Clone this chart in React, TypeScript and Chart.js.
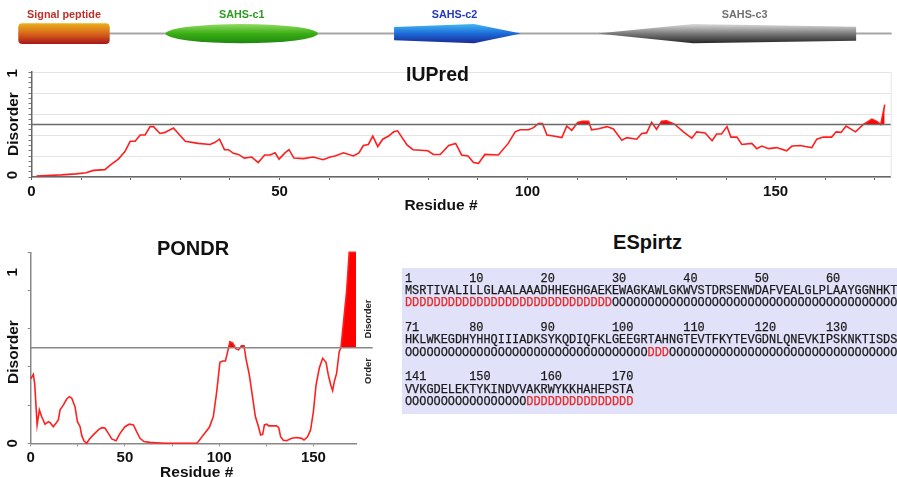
import React, { useEffect, useRef } from "react";
import { Chart, registerables } from "chart.js";

Chart.register(...registerables);

// ---------------- data ----------------
const SEQ_LENGTH = 172;

const domainNames = ["Signal peptide", "SAHS-c1", "SAHS-c2", "SAHS-c3"];
const domainStarts = [1, 30, 75, 115];
const domainEnds = [18, 59, 99, 165];

const disorderThreshold = 0.5;
const xTickLabels = [0, 50, 100, 150];
const yTickLabels = [0, 1];

const iupredResidues = [
  1, 3, 6, 9, 11, 12.5, 14.8, 15.8, 17.5, 18.8, 19.9, 20.9, 21.9, 22.9, 23.9, 24.6, 25.9, 26.9, 28.6, 31,
  33.6, 36, 37, 37.9, 38.9, 39.7, 40.7, 41.7, 42.9, 44.4, 45.7, 47, 48.1, 49.1, 49.9, 51.1, 51.9, 52.9, 54.8, 56.8,
  58.8, 60.2, 61.2, 62.9, 64.9, 66, 66.9, 67.9, 68.8, 69.8, 70.8, 72, 73, 73.8, 75.7, 76.9, 79.9, 81, 82.4, 84.1,
  85.5, 86.7, 88, 89.1, 90.1, 91.4, 94.1, 96.1, 97.5, 98.5, 100.2, 101.2, 102.2, 103, 103.9, 105.2, 106.9, 107.9, 108.9, 110.1,
  111.1, 112.3, 112.9, 114.3, 116, 117.3, 119, 120, 122, 123, 124, 125, 126, 127, 128, 129.7, 131.4, 133.1, 134.1, 135.8,
  137.2, 138.1, 139.1, 140.2, 141, 142.2, 143.2, 145.2, 146.2, 147.2, 148.6, 150.2, 152.2, 153.3, 155, 156, 157.3, 158.3, 159.6, 161.3,
  162.2, 163.2, 164.2, 166.1, 167.7, 168.7, 169.4, 170.4, 171.2, 172,
];
const iupredScores = [
  0.01, 0.015, 0.02, 0.03, 0.04, 0.063, 0.07, 0.11, 0.17, 0.24, 0.34, 0.34, 0.4, 0.4, 0.48, 0.48, 0.415, 0.425, 0.467, 0.34,
  0.32, 0.31, 0.33, 0.36, 0.26, 0.26, 0.225, 0.215, 0.18, 0.19, 0.137, 0.21, 0.21, 0.23, 0.17, 0.23, 0.26, 0.18, 0.175, 0.19,
  0.165, 0.19, 0.2, 0.23, 0.2, 0.23, 0.3, 0.31, 0.39, 0.29, 0.36, 0.39, 0.43, 0.44, 0.305, 0.26, 0.25, 0.215, 0.215, 0.3,
  0.32, 0.21, 0.2, 0.137, 0.13, 0.215, 0.21, 0.32, 0.43, 0.45, 0.45, 0.47, 0.51, 0.51, 0.4, 0.39, 0.375, 0.485, 0.445, 0.52,
  0.53, 0.53, 0.45, 0.46, 0.48, 0.457, 0.35, 0.375, 0.36, 0.415, 0.42, 0.52, 0.455, 0.53, 0.535, 0.5, 0.43, 0.37, 0.43, 0.42,
  0.346, 0.41, 0.41, 0.48, 0.38, 0.38, 0.31, 0.32, 0.27, 0.295, 0.27, 0.28, 0.25, 0.295, 0.3, 0.29, 0.28, 0.36, 0.38, 0.38,
  0.43, 0.425, 0.485, 0.43, 0.5, 0.53, 0.55, 0.53, 0.5, 0.69,
];

const pondrResidues = [
  0, 1.4, 2.1, 2.8, 3.4, 4.6, 5.8, 7.6, 9.4, 10.3, 12, 13.8, 14.7, 15.6, 17.3, 19.1, 20.5, 21.8, 23.5, 24.8,
  26.2, 27.1, 28.3, 29.7, 31.1, 33.2, 35.9, 37.7, 39.4, 41.2, 43, 45.3, 47.4, 50, 52.3, 54.5, 56.2, 58, 60.1, 63.3,
  66.8, 72, 80, 88, 89, 91.6, 94.8, 96.9, 98.7, 100.4, 101.9, 103.3, 104.3, 105.7, 107.2, 108.9, 110.3, 111.8, 113.2, 114.2,
  116, 117.8, 119.2, 120.6, 122, 123.1, 124, 125.2, 126.3, 130.5, 131.6, 132.6, 134, 135.8, 138.5, 141.1, 143.8, 145, 146.8, 148.5,
  150, 151.4, 153.1, 154.9, 156.7, 157.9, 159.2, 160.2, 161.1, 162.3, 163.7, 164.6, 167.6, 169, 172.6,
];
const pondrScores = [
  0.337, 0.361, 0.314, 0.2, 0.096, 0.175, 0.14, 0.1, 0.113, 0.108, 0.087, 0.11, 0.124, 0.175, 0.2, 0.232, 0.244, 0.236, 0.192, 0.113,
  0.087, 0.04, 0.012, 0.0, 0.021, 0.044, 0.07, 0.082, 0.08, 0.052, 0.023, 0.014, 0.052, 0.087, 0.1, 0.096, 0.061, 0.026, 0.009, 0.005,
  0.003, 0.0, 0.0, 0.0, 0.009, 0.044, 0.084, 0.14, 0.27, 0.424, 0.431, 0.431, 0.471, 0.532, 0.524, 0.494, 0.489, 0.511, 0.511, 0.445,
  0.358, 0.236, 0.14, 0.096, 0.044, 0.047, 0.096, 0.1, 0.091, 0.091, 0.082, 0.035, 0.016, 0.014, 0.026, 0.03, 0.026, 0.017, 0.033, 0.07,
  0.166, 0.305, 0.393, 0.445, 0.424, 0.358, 0.305, 0.276, 0.323, 0.366, 0.48, 0.5, 0.794, 1.0, 1.0,
];

const espritzRowStarts = [1, 71, 141];
const espritzSequenceRows = [
  "MSRTIVALILLGLAALAAADHHEGHGAEKEWAGKAWLGKWVSTDRSENWDAFVEALGLPLAAYGGNHKT",
  "HKLWKEGDHYHHQIIIADKSYKQDIQFKLGEEGRTAHNGTEVTFKYTEVGDNLQNEVKIPSKNKTISDS",
  "VVKGDELEKTYKINDVVAKRWYKKHAHEPSTA",
];
const espritzDisorderStarts = [1, 105, 158];
const espritzDisorderEnds = [29, 107, 172];

// ---------------- styles ----------------
const SANS = '"Liberation Sans", Arial, Helvetica, sans-serif';

const domainStyles = [
  { shape: "roundrect", stops: ["#eab21c", "#d8661a", "#a8141a"], text: "#c0302a", labelShift: 0 },
  { shape: "ellipse", stops: ["#9be06a", "#3aae14", "#1c8410"], text: "#2f9a22", labelShift: 0 },
  { shape: "arrow", stops: ["#46c0f4", "#1c6ad8", "#1a2590"], text: "#2038c0", labelShift: -3 },
  { shape: "wedge", stops: ["#e4e4e4", "#7a7a7a", "#202020"], text: "#707070", labelShift: 18 },
];

const domainPlugin = {
  id: "domains",
  afterDraw(chart: any) {
    const { ctx } = chart;
    const x = chart.scales.x;
    const yc = 33.6;
    ctx.save();
    ctx.strokeStyle = "#a6a6a6";
    ctx.lineWidth = 2;
    ctx.beginPath();
    ctx.moveTo(x.getPixelForValue(0), yc);
    ctx.lineTo(x.getPixelForValue(SEQ_LENGTH), yc);
    ctx.stroke();

    domainNames.forEach((name, i) => {
      const x0 = x.getPixelForValue(domainStarts[i] - 1);
      const x1 = x.getPixelForValue(domainEnds[i]);
      const w = x1 - x0;
      const st = domainStyles[i];
      const g = ctx.createLinearGradient(0, yc - 10.5, 0, yc + 10.5);
      g.addColorStop(0, st.stops[0]);
      g.addColorStop(0.5, st.stops[1]);
      g.addColorStop(1, st.stops[2]);
      ctx.fillStyle = g;
      ctx.beginPath();
      if (st.shape === "roundrect") {
        const t = yc - 10.3, b = yc + 10.4, r = 4;
        ctx.moveTo(x0 + r, t);
        ctx.lineTo(x1 - r, t);
        ctx.quadraticCurveTo(x1, t, x1, t + r);
        ctx.lineTo(x1, b - r);
        ctx.quadraticCurveTo(x1, b, x1 - r, b);
        ctx.lineTo(x0 + r, b);
        ctx.quadraticCurveTo(x0, b, x0, b - r);
        ctx.lineTo(x0, t + r);
        ctx.quadraticCurveTo(x0, t, x0 + r, t);
      } else if (st.shape === "ellipse") {
        ctx.ellipse((x0 + x1) / 2, yc, w / 2, 9.6, 0, 0, Math.PI * 2);
      } else if (st.shape === "arrow") {
        const xp = x0 + 0.63 * w;
        ctx.moveTo(x0, yc - 6.6);
        ctx.lineTo(xp, yc - 9.6);
        ctx.lineTo(x1, yc);
        ctx.lineTo(xp, yc + 9.6);
        ctx.lineTo(x0, yc + 6.6);
      } else {
        const xp = x0 + 0.37 * w;
        ctx.moveTo(x0, yc);
        ctx.lineTo(xp, yc - 9.6);
        ctx.lineTo(x1, yc - 6.8);
        ctx.lineTo(x1, yc + 7.2);
        ctx.lineTo(xp, yc + 9.6);
      }
      ctx.closePath();
      ctx.fill();

      ctx.fillStyle = st.text;
      ctx.font = `bold 10.8px ${SANS}`;
      ctx.textAlign = "center";
      ctx.textBaseline = "middle";
      ctx.fillText(name, (x0 + x1) / 2 + st.labelShift, 15);
    });
    ctx.restore();
  },
};

function thresholdPlugin(extendRight: number, color: string, width: number) {
  return {
    id: "threshold",
    afterDatasetsDraw(chart: any) {
      const { ctx, chartArea } = chart;
      const py = chart.scales.y.getPixelForValue(disorderThreshold);
      ctx.save();
      ctx.strokeStyle = color;
      ctx.lineWidth = width;
      ctx.beginPath();
      ctx.moveTo(chartArea.left, py);
      ctx.lineTo(chartArea.right + extendRight, py);
      ctx.stroke();
      ctx.restore();
    },
  };
}

function frameRightPlugin(color: string) {
  return {
    id: "frameRight",
    beforeDatasetsDraw(chart: any) {
      const { ctx, chartArea } = chart;
      ctx.save();
      ctx.strokeStyle = color;
      ctx.lineWidth = 1;
      ctx.beginPath();
      ctx.moveTo(chartArea.right + 0.5, chartArea.top);
      ctx.lineTo(chartArea.right + 0.5, chartArea.bottom);
      ctx.stroke();
      ctx.restore();
    },
  };
}

// nudges follow the order of yTickLabels: [value 0, value 1]
function yLabelPlugin(xPos: number, nudges: number[]) {
  return {
    id: "yRotLabels",
    afterDraw(chart: any) {
      const { ctx } = chart;
      const y = chart.scales.y;
      yTickLabels.forEach((v, i) => {
        ctx.save();
        ctx.translate(xPos, y.getPixelForValue(v) + nudges[i]);
        ctx.rotate(-Math.PI / 2);
        ctx.font = `bold 15px ${SANS}`;
        ctx.fillStyle = "#111";
        ctx.textAlign = "center";
        ctx.textBaseline = "middle";
        ctx.fillText(String(v), 0, 0);
        ctx.restore();
      });
    },
  };
}

function lineDataset(xs: number[], ys: number[], color: string) {
  return {
    data: xs.map((r, i) => ({ x: r, y: ys[i] })),
    borderColor: color,
    borderWidth: 1.6,
    pointRadius: 0,
    tension: 0,
    clip: 4,
    fill: { target: { value: disorderThreshold }, above: "#ff0000", below: "rgba(0,0,0,0)" },
  };
}

function xTickCallback(v: any) {
  return xTickLabels.includes(Number(v)) ? String(v) : "";
}

function domainConfig(): any {
  return {
    type: "scatter",
    data: { datasets: [] },
    options: {
      animation: false,
      responsive: false,
      layout: { padding: { left: 18.3, right: 5.3, top: 0, bottom: 0 } },
      plugins: { legend: { display: false }, tooltip: { enabled: false } },
      scales: {
        x: { type: "linear", min: 0, max: SEQ_LENGTH, display: false },
        y: { type: "linear", min: 0, max: 1, display: false },
      },
    },
    plugins: [domainPlugin],
  };
}

function iupredConfig(): any {
  return {
    type: "line",
    data: { datasets: [lineDataset(iupredResidues, iupredScores, "#ff1e1e")] },
    options: {
      animation: false,
      responsive: false,
      layout: { padding: { left: 0, right: 6.3, top: 12, bottom: 0 } },
      plugins: { legend: { display: false }, tooltip: { enabled: false } },
      scales: {
        x: {
          type: "linear",
          min: 0,
          max: 173.2,
          afterFit: (s: any) => { s.height = 43; },
          border: { color: "#666", width: 1.5 },
          grid: { drawOnChartArea: false, tickLength: 3, color: "#666" },
          ticks: {
            stepSize: 10, includeBounds: false, autoSkip: false, maxRotation: 0, minRotation: 0,
            padding: 3, color: "#111", font: { family: SANS, size: 15, weight: "bold" },
            callback: xTickCallback,
          },
        },
        y: {
          type: "linear",
          min: 0,
          max: 1,
          afterFit: (s: any) => { s.width = 31.5; },
          border: { color: "#666", width: 1.5 },
          grid: {
            color: (c: any) => (Math.round(c.tick.value * 100) % 20 === 0 ? "#e4e4e4" : "rgba(0,0,0,0)"),
            tickColor: "#777",
            tickLength: 3,
          },
          ticks: { stepSize: 0.05, display: false },
        },
      },
    },
    plugins: [frameRightPlugin("#e4e4e4"), thresholdPlugin(0, "#6a6a6a", 1.3), yLabelPlugin(13, [-2, 1.3])],
  };
}

function pondrConfig(): any {
  return {
    type: "line",
    data: { datasets: [lineDataset(pondrResidues, pondrScores, "#ff2020")] },
    options: {
      animation: false,
      responsive: false,
      layout: { padding: { left: 0, right: 44, top: 12.3, bottom: 0 } },
      plugins: { legend: { display: false }, tooltip: { enabled: false } },
      scales: {
        x: {
          type: "linear",
          min: 0,
          max: 172.6,
          afterFit: (s: any) => { s.height = 33.7; },
          border: { color: "#888", width: 1.5 },
          grid: { drawOnChartArea: false, tickLength: 3, color: "#888" },
          ticks: {
            stepSize: 25, includeBounds: false, autoSkip: false, maxRotation: 0, minRotation: 0,
            padding: 3, color: "#111", font: { family: SANS, size: 15, weight: "bold" },
            callback: xTickCallback,
          },
        },
        y: {
          type: "linear",
          min: 0,
          max: 1,
          afterFit: (s: any) => { s.width = 30.7; },
          border: { color: "#888", width: 1.5 },
          grid: { drawOnChartArea: false, tickLength: 3, color: "#888" },
          ticks: { stepSize: 0.2, display: false },
        },
      },
    },
    plugins: [thresholdPlugin(16.7, "#888", 1.5), yLabelPlugin(13, [0, 20])],
  };
}

// ---------------- components ----------------
function ChartCanvas(props: { left: number; top: number; width: number; height: number; build: () => any }) {
  const ref = useRef<HTMLCanvasElement | null>(null);
  useEffect(() => {
    if (!ref.current) return;
    const chart = new Chart(ref.current, props.build());
    return () => chart.destroy();
  }, []);
  return (
    <canvas
      ref={ref}
      width={props.width}
      height={props.height}
      style={{ position: "absolute", left: props.left, top: props.top, width: props.width, height: props.height }}
    />
  );
}

function Label(props: { x: number; y: number; size: number; text: string; rotate?: boolean; color?: string }) {
  return (
    <div
      style={{
        position: "absolute",
        left: props.x,
        top: props.y,
        transform: `translate(-50%, -50%)${props.rotate ? " rotate(-90deg)" : ""}`,
        fontFamily: SANS,
        fontWeight: "bold",
        fontSize: props.size,
        lineHeight: 1,
        whiteSpace: "nowrap",
        color: props.color || "#111",
      }}
    >
      {props.text}
    </div>
  );
}

function isDisordered(res: number) {
  return espritzDisorderStarts.some((s, i) => res >= s && res <= espritzDisorderEnds[i]);
}

function EspritzPanel() {
  const blocks: React.ReactNode[] = [];
  espritzRowStarts.forEach((start, ri) => {
    const seq = espritzSequenceRows[ri];
    let num = String(start);
    for (let n = Math.ceil((start + 1) / 10) * 10; n < start + seq.length; n += 10) {
      num = num.padEnd(n - start) + n;
    }
    const runs: { d: boolean; len: number }[] = [];
    for (let k = 0; k < seq.length; k++) {
      const d = isDisordered(start + k);
      if (runs.length && runs[runs.length - 1].d === d) runs[runs.length - 1].len++;
      else runs.push({ d, len: 1 });
    }
    blocks.push(
      <React.Fragment key={ri}>
        {num + "\n"}
        {seq + "\n"}
        {runs.map((r, j) => (
          <span key={j} style={{ color: r.d ? "#e82a2a" : "#1a1a1a" }}>
            {(r.d ? "D" : "O").repeat(r.len)}
          </span>
        ))}
        {"\n\n"}
      </React.Fragment>
    );
  });
  return (
    <div
      style={{
        position: "absolute",
        left: 402.3,
        top: 268.3,
        width: 497,
        height: 146,
        background: "#e1e1f9",
        overflow: "hidden",
      }}
    >
      <pre
        style={{
          margin: 0,
          padding: "4.5px 0 0 2.7px",
          fontFamily: '"Liberation Mono", "Courier New", monospace',
          fontSize: 11.9,
          lineHeight: "12.33px",
          color: "#1a1a1a",
          WebkitTextStroke: "0.25px currentColor",
        }}
      >
        {blocks}
      </pre>
    </div>
  );
}

export default function App() {
  return (
    <div
      style={{
        position: "absolute",
        left: 0,
        top: 0,
        width: 897,
        height: 477,
        overflow: "hidden",
        background: "#fff",
      }}
    >
      <ChartCanvas left={0} top={0} width={897} height={55} build={domainConfig} />
      <ChartCanvas left={0} top={60} width={897} height={160} build={iupredConfig} />
      <ChartCanvas left={0} top={240} width={400} height={237} build={pondrConfig} />

      <Label x={437.5} y={75} size={19.5} text="IUPred" />
      <Label x={441} y={205} size={15.5} text="Residue #" />
      <Label x={13} y={124} size={15.5} text="Disorder" rotate />

      <Label x={193} y={248} size={20} text="PONDR" />
      <Label x={196.7} y={471.7} size={15.5} text="Residue #" />
      <Label x={13} y={352} size={15.5} text="Disorder" rotate />
      <Label x={368} y={319} size={9.5} text="Disorder" rotate color="#222" />
      <Label x={368} y={371} size={9.5} text="Order" rotate color="#222" />

      <Label x={647.5} y={241.7} size={20} text="ESpirtz" />
      <EspritzPanel />
    </div>
  );
}
